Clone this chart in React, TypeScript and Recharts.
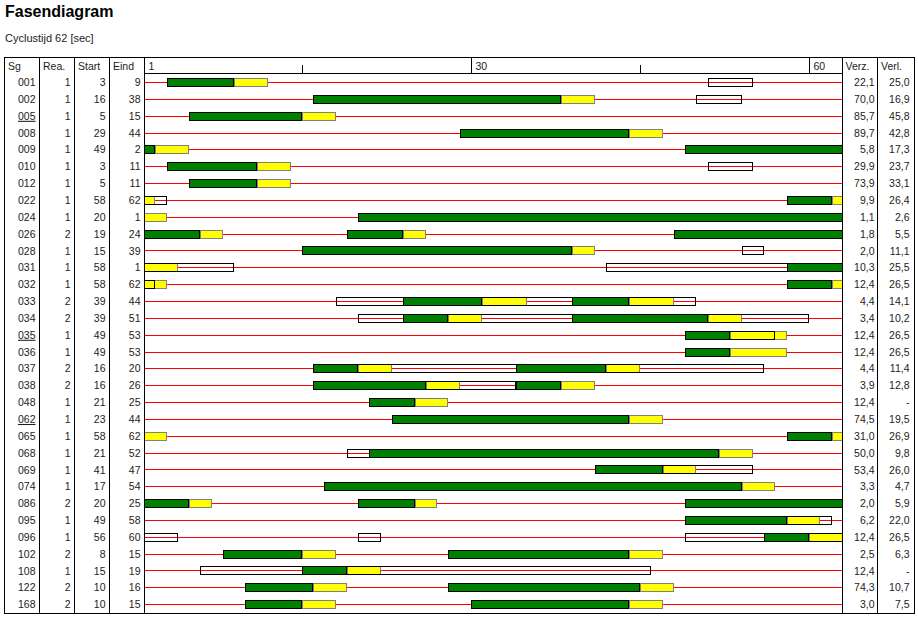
import React from 'react';
import { ComposedChart, Bar, XAxis, YAxis } from 'recharts';

const cycleTime = 62;
const sgLabels = ['001','002','005','008','009','010','012','022','024','026','028','031','032','033','034','035','036','037','038','048','062','065','068','069','074','086','095','096','102','108','122','168'];
const underlinedSg = ['005', '035', '062'];
const rea = [1,1,1,1,1,1,1,1,1,2,1,1,1,2,2,1,1,2,2,1,1,1,1,1,1,2,1,1,2,1,2,2];
const startSec = [3,16,5,29,49,3,5,58,20,19,15,58,58,39,39,49,49,16,16,21,23,58,21,41,17,20,49,56,8,15,10,10];
const eindSec = [9,38,15,44,2,11,11,62,1,24,39,1,62,44,51,53,53,20,26,25,44,62,52,47,54,25,58,60,15,19,16,15];
const verz = ['22,1','70,0','85,7','89,7','5,8','29,9','73,9','9,9','1,1','1,8','2,0','10,3','12,4','4,4','3,4','12,4','12,4','4,4','3,9','12,4','74,5','31,0','50,0','53,4','3,3','2,0','6,2','12,4','2,5','12,4','74,3','3,0'];
const verl = ['25,0','16,9','45,8','42,8','17,3','23,7','33,1','26,4','2,6','5,5','11,1','25,5','26,5','14,1','10,2','26,5','26,5','11,4','12,8','-','19,5','26,9','9,8','26,0','4,7','5,9','22,0','26,5','6,3','-','10,7','7,5'];

// green phases (seconds, 0 = start of second 1)
const greens: number[][][] = [
  [[2, 8]], [[15, 37]], [[4, 14]], [[28, 43]], [[0, 1], [48, 62]], [[2, 10]], [[4, 10]], [[57, 61]],
  [[19, 62]], [[0, 5], [18, 23], [47, 62]], [[14, 38]], [[57, 62]], [[57, 61]], [[23, 30], [38, 43]],
  [[23, 27], [38, 50]], [[48, 52]], [[48, 52]], [[15, 19], [33, 41]], [[15, 25], [33, 37]], [[20, 24]],
  [[22, 43]], [[57, 61]], [[20, 51]], [[40, 46]], [[16, 53]], [[0, 4], [19, 24], [48, 62]], [[48, 57]],
  [[55, 59]], [[7, 14], [27, 43]], [[14, 18]], [[9, 15], [27, 44]], [[9, 14], [29, 43]],
];
// amber phases
const yellows: number[][][] = [
  [[8, 11]], [[37, 40]], [[14, 17]], [[43, 46]], [[1, 4]], [[10, 13]], [[10, 13]], [[0, 1], [61, 62]],
  [[0, 2]], [[5, 7], [23, 25]], [[38, 40]], [[0, 3]], [[0, 2], [61, 62]], [[30, 34], [43, 47]],
  [[27, 30], [50, 53]], [[52, 57]], [[52, 57]], [[19, 22], [41, 44]], [[25, 28], [37, 40]], [[24, 27]],
  [[43, 46]], [[0, 2], [61, 62]], [[51, 54]], [[46, 49]], [[53, 56]], [[4, 6], [24, 26]], [[57, 60]],
  [[59, 62]], [[14, 17], [43, 46]], [[18, 21]], [[15, 18], [44, 47]], [[14, 17], [43, 46]],
];
// open (request) boxes
const whites: number[][][] = [
  [[50, 54]], [[49, 53]], [], [], [], [[50, 54]], [], [[0, 2]],
  [], [], [[53, 55]], [[0, 8], [41, 62]], [[0, 1]], [[17, 49]],
  [[19, 59]], [[48, 56]], [], [[15, 55]], [[15, 33]], [],
  [], [], [[18, 51]], [[40, 54]], [], [], [[48, 61]],
  [[0, 3], [19, 21], [48, 62]], [], [[5, 45]], [], [],
];

const rulerTicks = [0, 14, 29, 44, 59];
const rulerLabels = ['1', '', '30', '', '60'];

const FONT = '"Liberation Sans", Arial, sans-serif';
const TXT = '#1c1c1c';

const rows = sgLabels.map((sg, i) => {
  const r: any = { sg, span: [0, cycleTime] };
  greens[i].forEach((s, k) => { r['g' + k] = s; });
  yellows[i].forEach((s, k) => { r['y' + k] = s; });
  whites[i].forEach((s, k) => { r['w' + k] = s; });
  return r;
});

const LineShape = (p: any) => {
  const yy = Math.round(p.y + p.height / 2) + 0.5;
  return <line x1={p.x} x2={p.x + p.width} y1={yy} y2={yy} stroke="#ff0000" strokeWidth={1} shapeRendering="crispEdges" />;
};

const makeRect = (key: string, fill: string, stroke: string) => (p: any) => {
  if (!p.payload || !p.payload[key] || !isFinite(p.width) || !isFinite(p.x)) return <g />;
  const x0 = Math.round(p.x);
  const x1 = Math.round(p.x + p.width);
  const y0 = Math.round(p.y);
  return (
    <rect x={x0 + 0.5} y={y0 + 0.5} width={x1 - x0 - 1} height={Math.round(p.height)} fill={fill} stroke={stroke} strokeWidth={1} shapeRendering="crispEdges" />
  );
};

const LeftTick = (p: any) => {
  const i = p.payload?.index ?? p.index;
  const y = p.y + 3.7;
  const sg = sgLabels[i];
  return (
    <g fontFamily={FONT} fontSize={10.5} fill={TXT}>
      <text x={35.5} y={y} textAnchor="end" style={{ textDecoration: underlinedSg.includes(sg) ? 'underline' : 'none' }}>{sg}</text>
      <text x={70.5} y={y} textAnchor="end">{rea[i]}</text>
      <text x={105.5} y={y} textAnchor="end">{startSec[i]}</text>
      <text x={140.5} y={y} textAnchor="end">{eindSec[i]}</text>
    </g>
  );
};

const RightTick = (p: any) => {
  const i = p.payload?.index ?? p.index;
  const y = p.y + 3.7;
  return (
    <g fontFamily={FONT} fontSize={10.5} fill={TXT}>
      <text x={874.5} y={y} textAnchor="end">{verz[i]}</text>
      <text x={909.5} y={y} textAnchor="end">{verl[i]}</text>
    </g>
  );
};

const TopTick = (p: any) => {
  const v = p.payload.value;
  const idx = rulerTicks.indexOf(v);
  const label = rulerLabels[idx] || '';
  const x = Math.round(p.x) + 0.5;
  const major = label !== '';
  return (
    <g>
      <line x1={x} x2={x} y1={major ? 57 : 65} y2={74} stroke="#000" strokeWidth={1} shapeRendering="crispEdges" />
      {major && (
        <text x={x + 4} y={70} fontFamily={FONT} fontSize={10.5} fill={TXT}>{label}</text>
      )}
    </g>
  );
};

export default function App() {
  const vLines = [4.5, 39.5, 74.5, 109.5, 144.5, 842.5, 877.5, 914.5];
  return (
    <div style={{ position: 'absolute', left: 0, top: 0, width: 918, height: 618, background: '#fff' }}>
      <ComposedChart
        width={918}
        height={618}
        data={rows}
        layout="vertical"
        margin={{ top: 57, right: 3, bottom: 5, left: 4 }}
        barSize={8}
        barGap={-8}
      >
        <XAxis
          type="number"
          orientation="top"
          domain={[0, cycleTime]}
          ticks={rulerTicks}
          height={17}
          axisLine={false}
          tickLine={false}
          tick={<TopTick />}
          interval={0}
        />
        <YAxis type="category" dataKey="sg" width={140} axisLine={false} tickLine={false} interval={0} tick={<LeftTick />} />
        <YAxis yAxisId="r" orientation="right" type="category" dataKey="sg" width={72} axisLine={false} tickLine={false} interval={0} tick={<RightTick />} />
        <Bar dataKey="span" isAnimationActive={false} shape={LineShape} />
        <Bar dataKey="y0" isAnimationActive={false} shape={makeRect('y0', '#ffff00', '#808080')} />
        <Bar dataKey="y1" isAnimationActive={false} shape={makeRect('y1', '#ffff00', '#808080')} />
        <Bar dataKey="g0" isAnimationActive={false} shape={makeRect('g0', '#008000', '#000')} />
        <Bar dataKey="g1" isAnimationActive={false} shape={makeRect('g1', '#008000', '#000')} />
        <Bar dataKey="g2" isAnimationActive={false} shape={makeRect('g2', '#008000', '#000')} />
        <Bar dataKey="w0" isAnimationActive={false} shape={makeRect('w0', 'none', '#000')} />
        <Bar dataKey="w1" isAnimationActive={false} shape={makeRect('w1', 'none', '#000')} />
        <Bar dataKey="w2" isAnimationActive={false} shape={makeRect('w2', 'none', '#000')} />
      </ComposedChart>
      <svg width={918} height={618} style={{ position: 'absolute', left: 0, top: 0, pointerEvents: 'none' }}>
        <text x={5} y={17} fontFamily={FONT} fontSize={16} fontWeight="bold" fill="#000">Fasendiagram</text>
        <text x={5} y={41.5} fontFamily={FONT} fontSize={11} fill={TXT}>Cyclustijd 62 [sec]</text>
        <g stroke="#000" strokeWidth={1} shapeRendering="crispEdges">
          <line x1={4} x2={915} y1={57.5} y2={57.5} />
          <line x1={4} x2={915} y1={613.5} y2={613.5} />
          <line x1={144} x2={843} y1={73.5} y2={73.5} />
          {vLines.map((x) => (
            <line key={x} x1={x} x2={x} y1={57} y2={614} />
          ))}
        </g>
        <g fontFamily={FONT} fontSize={10.5} fill={TXT}>
          <text x={8} y={70}>Sg</text>
          <text x={43} y={70}>Rea.</text>
          <text x={78} y={70}>Start</text>
          <text x={113} y={70}>Eind</text>
          <text x={845.5} y={70}>Verz.</text>
          <text x={881} y={70}>Verl.</text>
        </g>
      </svg>
    </div>
  );
}
